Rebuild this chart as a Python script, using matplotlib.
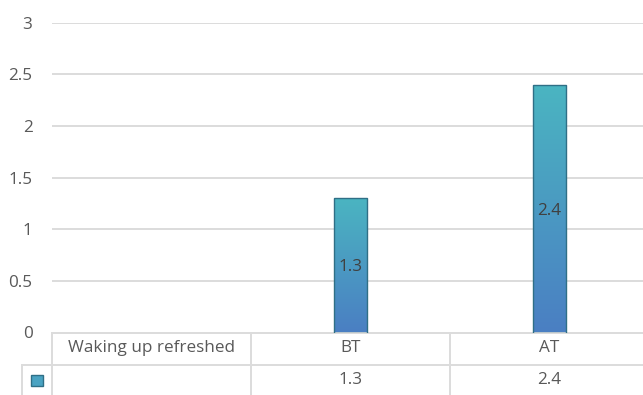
import matplotlib
matplotlib.use("Agg")
import matplotlib.pyplot as plt
import matplotlib.transforms as mtransforms
import numpy as np
from matplotlib.colors import LinearSegmentedColormap
from matplotlib.patches import Rectangle

# ---- data ----
categories = ["Waking up refreshed", "BT", "AT"]
values = [None, 1.3, 2.4]
y_ticks = [0, 0.5, 1, 1.5, 2, 2.5, 3]
y_tick_labels = ["0", "0.5", "1", "1.5", "2", "2.5", "3"]

# ---- style ----
FONT = ["Open Sans", "DejaVu Sans"]
FS = 12.3
TEXT = "#595959"
GRID = "#DCDCDC"
BAR_TOP = "#4BB5C1"
BAR_BOTTOM = "#4A7FC3"
BAR_EDGE = "#2F6F86"
plt.rcParams["font.family"] = FONT

W, H = 643, 395
fig = plt.figure(figsize=(W / 100, H / 100), dpi=100)
fig.patch.set_facecolor("white")

# plot area in pixels (left, right, top, bottom)
px_left, px_right, px_top, px_bottom = 52, 649, 22.7, 332.5
ax = fig.add_axes([px_left / W, (H - px_bottom) / H,
                   (px_right - px_left) / W, (px_bottom - px_top) / H])

n = len(categories)
x = np.arange(n)
bar_w = 0.17

ax.set_xlim(-0.5, n - 0.5)
ax.set_ylim(0, 3)
ax.set_yticks(y_ticks)
ax.set_yticklabels(y_tick_labels)
ax.set_xticks([])
ax.tick_params(axis="y", length=0, pad=14, labelsize=FS, labelcolor=TEXT)
ax.grid(axis="y", color=GRID, linewidth=1.4)
ax.set_axisbelow(True)
for s in ax.spines.values():
    s.set_visible(False)

# gradient bars
cmap = LinearSegmentedColormap.from_list("bar", [BAR_BOTTOM, BAR_TOP])
grad = np.linspace(0, 1, 256).reshape(-1, 1)
for xi, v in zip(x, values):
    if v is None:
        continue
    bars = ax.bar(xi, v, width=bar_w, facecolor="none", edgecolor=BAR_EDGE,
                  linewidth=1.0, zorder=3)
    patch = bars.patches[0]
    im = ax.imshow(grad, cmap=cmap, origin="lower", aspect="auto",
                   extent=[xi - bar_w / 2, xi + bar_w / 2, 0, v], zorder=2,
                   interpolation="bilinear")
    im.set_clip_path(patch)
    ax.text(xi, v / 2, f"{v}", ha="center", va="center_baseline", fontsize=FS,
            color="#404040", zorder=4)

ax.set_xlim(-0.5, n - 0.5)
ax.set_ylim(0, 3)

# ---- data table below the plot ----
plot_h = px_bottom - px_top
row_h = 32.0
def yfrac(px):
    """pixel offset below the axis -> axes fraction"""
    return -px / plot_h

trans = mtransforms.blended_transform_factory(ax.transData, ax.transAxes)
key_col = 30.0 / (px_right - px_left)  # legend key column width (axes fraction)

line_kw = dict(color=GRID, linewidth=1.4, clip_on=False, zorder=1)
y0, y1, y2 = 0.0, yfrac(row_h), yfrac(2 * row_h + 2)

# horizontal rules
ax.plot([0, 1], [y0, y0], transform=ax.transAxes, **line_kw)
ax.plot([-key_col, 1], [y1, y1], transform=ax.transAxes, **line_kw)
ax.plot([-key_col, 1], [y2, y2], transform=ax.transAxes, **line_kw)
# vertical rules at category boundaries
for b in np.arange(-0.5, n, 1.0):
    ax.plot([b, b], [y0, y2], transform=trans, **line_kw)
ax.plot([-key_col, -key_col], [y1, y2], transform=ax.transAxes, **line_kw)

# header row: category names
for xi, c in zip(x, categories):
    ax.text(xi, (y0 + y1) / 2, c, transform=trans, ha="center", va="center",
            fontsize=FS, color=TEXT, clip_on=False)
# value row
for xi, v in zip(x, values):
    if v is None:
        continue
    ax.text(xi, (y1 + yfrac(2 * row_h)) / 2, f"{v}", transform=trans,
            ha="center", va="center", fontsize=FS, color=TEXT, clip_on=False)

# legend key in the value row
key_px = 11.0
kx = -key_col / 2
ky = (y1 + yfrac(2 * row_h)) / 2
ax.add_patch(Rectangle((kx - key_px / 2 / (px_right - px_left),
                        ky - key_px / 2 / plot_h),
                       key_px / (px_right - px_left), key_px / plot_h,
                       transform=ax.transAxes, facecolor="#4AA3C2",
                       edgecolor=BAR_EDGE, linewidth=1.0, clip_on=False))

fig.savefig("out.png", dpi=100, facecolor="white")
